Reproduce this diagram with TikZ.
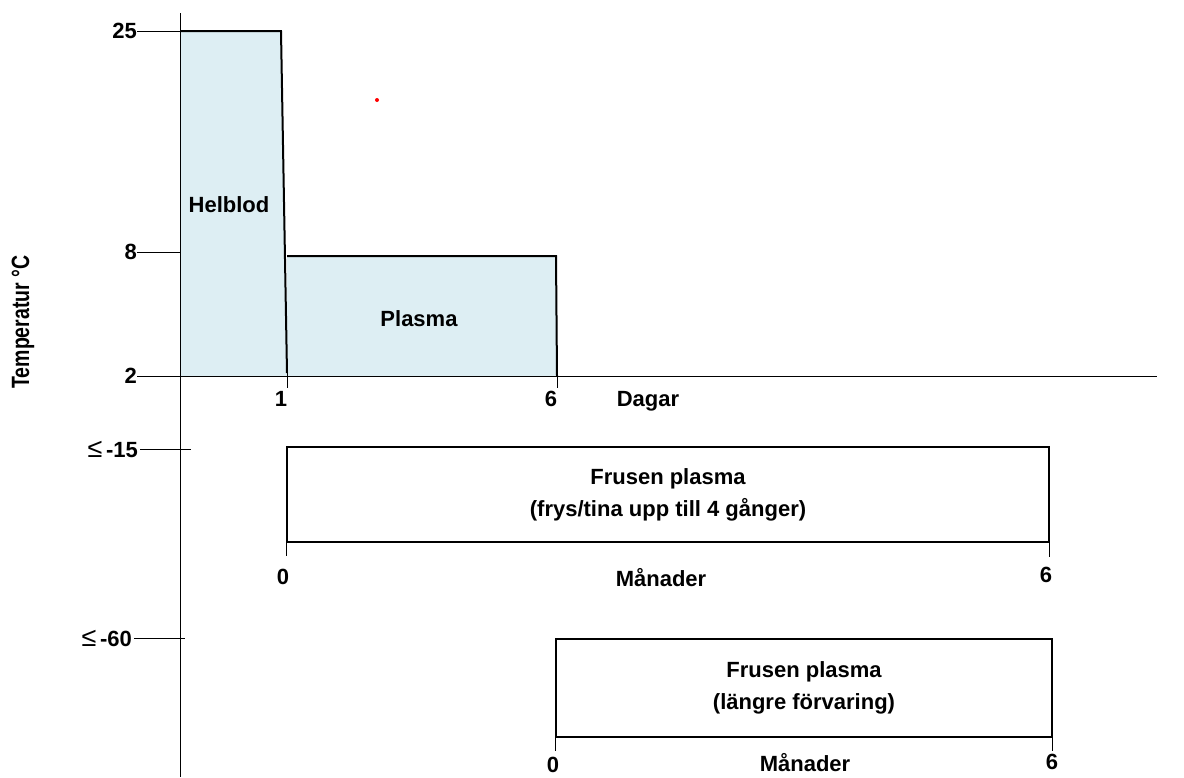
\documentclass[tikz,border=0pt]{standalone}
\usepackage{fontspec}
\setmainfont{Liberation Sans}
\definecolor{storefill}{HTML}{DDEEF3}
\tikzset{
  lbl/.style={font=\fontsize{22}{26}\selectfont\bfseries, inner sep=0pt},
  axisline/.style={line width=1pt},
  edgeline/.style={line width=2pt},
  storebox/.style={draw, line width=1.2pt, inner sep=0pt, align=center,
    font=\fontsize{22}{32}\selectfont\bfseries},
}
\newcommand{\atmost}{{\mdseries\fontsize{27}{27}\selectfont ≤}\,}
\begin{document}
\begin{tikzpicture}[x=1pt,y=-1pt]
    \useasboundingbox (0,0) rectangle (1184,777);

    % Storage areas
    \fill[storefill] (180,31) -- (281,31) -- (287,376) -- (180,376) -- cycle;
    \fill[storefill] (287,256) rectangle (556,376);

    % Axes
    \coordinate (top) at (180,13);
    \coordinate (bottom) at (180,777);
    \draw[axisline] (top) -- (bottom);
    \draw[axisline] (137,376) -- (1157,376);

    % Temperature ticks
    \foreach \t/\y in {25/31, 8/252, 2/376} {
        \draw[axisline] (137,\y) -- (180,\y);
        \node[lbl, anchor=east] (temp\t) at (137,\y) {\t};
    }
    \draw[axisline] (140,449) -- (191,449);
    \node[lbl, anchor=east] (temp15) at (138,449) {\atmost-15};
    \draw[axisline] (134,638) -- (185,638);
    \node[lbl, anchor=east] (temp60) at (132,638) {\atmost-60};
    \node[lbl, rotate=90] (ylabel) at (23,322)
        {\scalebox{0.78}[1]{\fontsize{25}{25}\selectfont Temperatur °C}};

    % Helblod and plasma
    \draw[edgeline] (180,31) -- (281,31) -- (287,373);
    \draw[axisline] (287,373) -- (287,388);
    \draw[edgeline] (287,256) -- (556,256) -- (557,376);
    \draw[axisline] (557,376) -- (557,388);
    \node[lbl] (helblod) at (229,205) {Helblod};
    \node[lbl] (plasma) at (419,319) {Plasma};
    \node[lbl] (day1) at (281,399) {1};
    \node[lbl] (day6) at (551,399) {6};
    \node[lbl] (dagar) at (648,401) {Dagar};

    % Red dot
    \fill[red] (377,100) circle (2);

    % Frozen plasma
    \node[storebox, minimum width=762, minimum height=95] (frozen1) at (668,494.5)
        {Frusen plasma\\(frys/tina upp till 4 gånger)};
    \draw[axisline] (frozen1.south west) -- ++(0,13);
    \draw[axisline] (frozen1.south east) -- ++(0,14);
    \node[lbl] (m0a) at (283,577) {0};
    \node[lbl] (mana) at (661,578) {Månader};
    \node[lbl] (m6a) at (1046,575) {6};

    \node[storebox, minimum width=496, minimum height=98] (frozen2) at (804,688)
        {Frusen plasma\\(längre förvaring)};
    \draw[axisline] (frozen2.south west) -- ++(0,13);
    \draw[axisline] (frozen2.south east) -- ++(0,13);
    \node[lbl] (m0b) at (553,765) {0};
    \node[lbl] (manb) at (805,763) {Månader};
    \node[lbl] (m6b) at (1052,762) {6};
\end{tikzpicture}
\end{document}
